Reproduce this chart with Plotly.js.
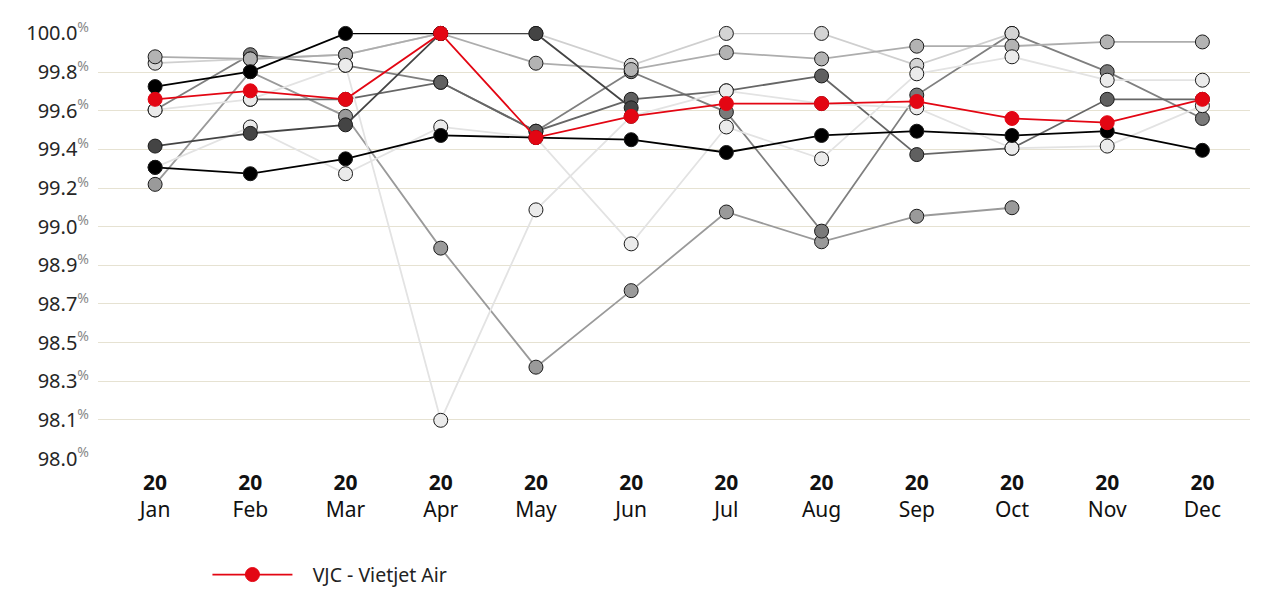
<!DOCTYPE html>
<html>
<head>
<meta charset="utf-8">
<script src="https://cdn.plot.ly/plotly-3.0.1.min.js"></script>
<style>
html,body{margin:0;padding:0;background:#fff;}
#chart{width:1262px;height:589px;}
</style>
</head>
<body>
<div id="chart"></div>
<script>
// ---- data ----
const months = ['Jan','Feb','Mar','Apr','May','Jun','Jul','Aug','Sep','Oct','Nov','Dec'];
const yearLabel = '20';
const yTickLabels = ['98.0','98.1','98.3','98.5','98.7','98.9','99.0','99.2','99.4','99.6','99.8','100.0'];
const yMin = 98.0;
const yMax = 100.0;

const vjc       = [99.69, 99.73, 99.69, 100.0, 99.51, 99.61, 99.67, 99.67, 99.68, 99.60, 99.58, 99.69];
const blackLow  = [99.37, 99.34, 99.41, 99.52, 99.51, 99.50, 99.44, 99.52, 99.54, 99.52, 99.54, 99.45];
const blackHigh = [99.75, 99.82, 100.0, 100.0, null, null, null, null, null, null, null, null];
const dark444   = [99.47, 99.53, 99.57, 100.0, 100.0, 99.65, null, null, null, null, null, null];
const grey777   = [99.64, 99.90, 99.85, 99.77, 99.54, 99.82, 99.63, 99.07, 99.71, 100.0, 99.82, 99.60];
const grey666   = [null, 99.69, 99.69, 99.77, 99.54, 99.69, 99.73, 99.80, 99.43, 99.46, 99.69, 99.69];
const grey999   = [99.29, 99.82, 99.61, 98.99, 98.43, 98.79, 99.16, 99.02, 99.14, 99.18, null, null];
const lightB0   = [99.89, 99.88, 99.90, 100.0, 99.86, 99.83, 99.91, 99.88, 99.94, 99.94, 99.96, 99.96];
const lightD0   = [99.86, 99.88, 99.90, 100.0, 100.0, 99.85, 100.0, 100.0, 99.85, 100.0, null, null];
const whiteA    = [99.37, 99.56, 99.34, 99.56, 99.51, 99.01, 99.56, 99.41, 99.81, 99.89, 99.78, 99.78];
const whiteB    = [99.64, 99.69, 99.85, 98.18, 99.17, 99.61, 99.73, 99.67, 99.65, 99.46, 99.47, 99.66];

// ---- styling ----
const FONT = '"Noto Sans", "Open Sans", sans-serif';
function series(y, lineColor, fillColor, name, show) {
  return {
    type: 'scatter', mode: 'lines+markers', x: months, y: y, name: name || '',
    showlegend: !!show, cliponaxis: false, hoverinfo: 'skip',
    line: {color: lineColor, width: 1.8},
    marker: {size: 14, color: fillColor, line: {color: '#1a1a1a', width: 1}}
  };
}
const traces = [
  series(grey999,  '#9a9a9a', '#9a9a9a'),
  series(grey777,  '#7f7f7f', '#7a7a7a'),
  series(lightD0,  '#cfcfcf', '#d4d4d4'),
  series(lightB0,  '#adadad', '#b3b3b3'),
  series(grey666,  '#666666', '#606060'),
  series(whiteB,   '#e3e3e3', '#ebebeb'),
  series(whiteA,   '#e3e3e3', '#ebebeb'),
  series(dark444,  '#444444', '#444444'),
  series(blackHigh,'#000000', '#000000'),
  series(blackLow, '#000000', '#000000'),
  {
    type: 'scatter', mode: 'lines+markers', x: months, y: vjc,
    name: '\u00a0\u00a0\u00a0VJC - Vietjet Air',
    showlegend: true, cliponaxis: false, hoverinfo: 'skip',
    line: {color: '#e30613', width: 1.8},
    marker: {size: 14, color: '#e30613', line: {color: '#e30613', width: 1}}
  }
];

const tickVals = yTickLabels.map((_, i) => yMin + i * (yMax - yMin) / (yTickLabels.length - 1));
const tickText = yTickLabels.map(t => t + '<sup><span style="color:#888">%</span></sup>');
const xTickText = months.map(m => '<b>' + yearLabel + '</b><br>' + m);

const layout = {
  width: 1262, height: 589,
  margin: {l: 98, r: 12, t: 33, b: 130, autoexpand: false},
  paper_bgcolor: '#ffffff', plot_bgcolor: '#ffffff',
  font: {family: FONT, size: 18, color: '#222222'},
  showlegend: true,
  legend: {
    orientation: 'h', x: 0.095, xanchor: 'left', y: -0.272, yanchor: 'middle',
    font: {family: FONT, size: 19.5, color: '#222222'},
    itemwidth: 80, bgcolor: 'rgba(0,0,0,0)'
  },
  xaxis: {
    type: 'category', categoryorder: 'array', categoryarray: months,
    range: [-0.6, 11.5],
    tickmode: 'array', tickvals: months, ticktext: xTickText,
    showgrid: false, zeroline: false, showline: false, ticks: '',
    tickfont: {family: FONT, size: 21, color: '#111111'},
    ticklabelstandoff: 9,
    fixedrange: true
  },
  yaxis: {
    range: [yMin - 0.002, yMax + 0.002],
    tickmode: 'array', tickvals: tickVals, ticktext: tickText,
    showgrid: true, gridcolor: '#e6e2d2', gridwidth: 1,
    zeroline: false, showline: false, ticks: '',
    tickfont: {family: FONT, size: 20, color: '#262626'},
    ticklabelstandoff: 8,
    fixedrange: true
  }
};

Plotly.newPlot('chart', traces, layout, {displayModeBar: false, staticPlot: true});
</script>
</body>
</html>
